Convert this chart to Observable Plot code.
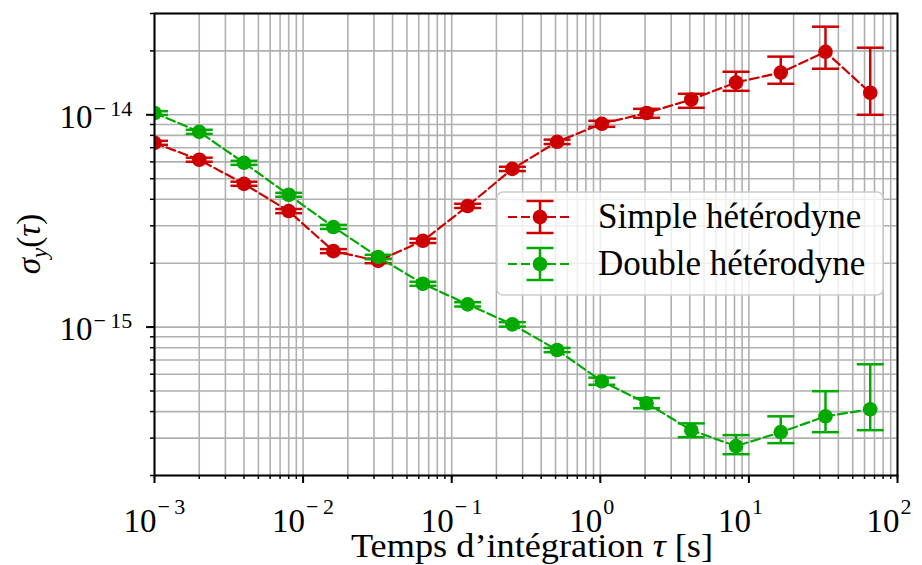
<!DOCTYPE html>
<html>
<head>
<meta charset="utf-8">
<script src="https://cdn.jsdelivr.net/npm/d3@7"></script>
<script src="https://cdn.jsdelivr.net/npm/@observablehq/plot@0.6"></script>
<style>
  html, body { margin: 0; padding: 0; background: white; }
  #chart svg { display: block; }
</style>
</head>
<body>
<div id="chart"></div>
<script>
// ---- data ----
const tau = [0.001, 0.002, 0.004, 0.008, 0.016, 0.032, 0.064, 0.128, 0.256, 0.512, 1.024, 2.048, 4.096, 8.192, 16.384, 32.768, 65.536];

const simpleVal = [7.38e-15, 6.14e-15, 4.73e-15, 3.52e-15, 2.28e-15, 2.05e-15, 2.55e-15, 3.72e-15, 5.56e-15, 7.46e-15, 9.07e-15, 1.02e-14, 1.18e-14, 1.42e-14, 1.58e-14, 1.98e-14, 1.27e-14];
const simpleLo  = [7.22e-15, 6.01e-15, 4.63e-15, 3.44e-15, 2.23e-15, 2.00e-15, 2.49e-15, 3.64e-15, 5.43e-15, 7.28e-15, 8.78e-15, 9.68e-15, 1.079e-14, 1.297e-14, 1.40e-14, 1.648e-14, 1.0e-14];
const simpleHi  = [7.54e-15, 6.28e-15, 4.84e-15, 3.60e-15, 2.33e-15, 2.10e-15, 2.61e-15, 3.81e-15, 5.69e-15, 7.64e-15, 9.37e-15, 1.067e-14, 1.256e-14, 1.595e-14, 1.879e-14, 2.60e-14, 2.07e-14];

const doubleVal = [1.02e-14, 8.31e-15, 5.94e-15, 4.20e-15, 2.96e-15, 2.14e-15, 1.60e-15, 1.28e-15, 1.03e-15, 7.80e-16, 5.56e-16, 4.38e-16, 3.27e-16, 2.75e-16, 3.20e-16, 3.80e-16, 4.10e-16];
const doubleLo  = [9.98e-15, 8.13e-15, 5.81e-15, 4.11e-15, 2.90e-15, 2.09e-15, 1.565e-15, 1.25e-15, 1.005e-15, 7.62e-16, 5.35e-16, 4.15e-16, 3.03e-16, 2.52e-16, 2.84e-16, 3.20e-16, 3.27e-16];
const doubleHi  = [1.04e-14, 8.50e-15, 6.07e-15, 4.29e-15, 3.03e-15, 2.19e-15, 1.635e-15, 1.31e-15, 1.055e-15, 7.98e-16, 5.78e-16, 4.63e-16, 3.52e-16, 3.10e-16, 3.80e-16, 4.99e-16, 6.68e-16];

const seriesNames  = ["Simple hétérodyne", "Double hétérodyne"];
const seriesColors = ["#cc0000", "#00aa00"];

const xMajor = [1e-3, 1e-2, 1e-1, 1, 10, 100];
const xExp   = ["−\u20093", "−\u20092", "−\u20091", "0", "1", "2"];
const yMajor = [1e-15, 1e-14];
const yExp   = ["−\u200915", "−\u200914"];

const xDomain = [1e-3, 1e2];
const yDomain = [2e-16, 3e-14];

// ---- build tables ----
const seriesData = [
  tau.map((t, i) => ({tau: t, v: simpleVal[i], lo: simpleLo[i], hi: simpleHi[i]})),
  tau.map((t, i) => ({tau: t, v: doubleVal[i], lo: doubleLo[i], hi: doubleHi[i]}))
];

const xAll = d3.scaleLog().domain(xDomain).ticks();
const yAll = d3.scaleLog().domain(yDomain).ticks();

const capSymbol = {
  draw(ctx) { ctx.moveTo(-13.5, 0); ctx.lineTo(13.5, 0); }
};

const gridStyle = {stroke: "#b0b0b0", strokeOpacity: 1, strokeWidth: 1.6};

const seriesMarks = [];
seriesData.forEach((rows, s) => {
  const c = seriesColors[s];
  seriesMarks.push(
    Plot.line(rows, {x: "tau", y: "v", stroke: c, strokeWidth: 2.2, strokeDasharray: "9,4", clip: true}),
    Plot.ruleX(rows, {x: "tau", y1: "lo", y2: "hi", stroke: c, strokeWidth: 2.5, clip: true}),
    Plot.dot(rows, {x: "tau", y: "lo", symbol: capSymbol, r: 5, stroke: c, fill: "none", strokeWidth: 2.5, clip: true}),
    Plot.dot(rows, {x: "tau", y: "hi", symbol: capSymbol, r: 5, stroke: c, fill: "none", strokeWidth: 2.5, clip: true}),
    Plot.dot(rows, {x: "tau", y: "v", r: 7.3, fill: c, stroke: null, clip: true})
  );
});

const chart = Plot.plot({
  width: 922,
  height: 565,
  marginLeft: 154,
  marginRight: 25,
  marginTop: 13,
  marginBottom: 90,
  style: {fontFamily: "'Liberation Serif', serif", background: "white", color: "black"},
  x: {type: "log", domain: xDomain},
  y: {type: "log", domain: yDomain},
  marks: [
    Plot.gridX(xAll, gridStyle),
    Plot.gridY(yAll, gridStyle),
    ...seriesMarks,
    Plot.frame({stroke: "black", strokeWidth: 2}),
    Plot.axisX({ticks: xAll, tickSize: 4, tickFormat: () => "", label: null, strokeWidth: 1.5}),
    Plot.axisX({ticks: xMajor, tickSize: 8, tickFormat: () => "", label: null, strokeWidth: 2}),
    Plot.axisY({ticks: yAll, tickSize: 4, tickFormat: () => "", label: null, strokeWidth: 1.5}),
    Plot.axisY({ticks: yMajor, tickSize: 8, tickFormat: () => "", label: null, strokeWidth: 2}),
    Plot.text(xMajor, {x: d => d, frameAnchor: "bottom", text: () => "10", textAnchor: "end", lineAnchor: "bottom", dx: 2, dy: 56, fontSize: 33, fill: "black"}),
    Plot.text(xMajor, {x: d => d, frameAnchor: "bottom", text: (d, i) => xExp[i], textAnchor: "start", lineAnchor: "bottom", dx: 3, dy: 38, fontSize: 22, fill: "black"}),
    Plot.text(yMajor, {y: d => d, frameAnchor: "left", text: () => "10", textAnchor: "end", lineAnchor: "bottom", dx: -62, dy: 13, fontSize: 33, fill: "black"}),
    Plot.text(yMajor, {y: d => d, frameAnchor: "left", text: (d, i) => yExp[i], textAnchor: "start", lineAnchor: "bottom", dx: -61, dy: 1, fontSize: 22, fill: "black"})
  ]
});

const svg = d3.select(chart);

// axis labels
const xl = svg.append("text")
  .attr("x", 532).attr("y", 557)
  .attr("text-anchor", "middle")
  .attr("textLength", 362).attr("lengthAdjust", "spacingAndGlyphs")
  .attr("font-size", 33).attr("fill", "black");
xl.append("tspan").text("Temps d’intégration ");
xl.append("tspan").attr("font-style", "italic").text("τ");
xl.append("tspan").text(" [s]");

const yl = svg.append("text")
  .attr("transform", "translate(40,244) rotate(-90)")
  .attr("text-anchor", "middle")
  .attr("font-size", 33).attr("fill", "black");
yl.append("tspan").attr("font-style", "italic").text("σ");
yl.append("tspan").attr("font-style", "italic").attr("font-size", 23).attr("dy", 7).text("y");
yl.append("tspan").attr("dy", -7).text("(");
yl.append("tspan").attr("font-style", "italic").text("τ");
yl.append("tspan").text(")");

// legend
const lg = svg.append("g").attr("text-anchor", "start");
lg.append("rect")
  .attr("x", 497).attr("y", 192).attr("width", 386).attr("height", 103)
  .attr("rx", 6).attr("fill", "white").attr("fill-opacity", 0.8)
  .attr("stroke", "#cccccc").attr("stroke-width", 1.5);
seriesNames.forEach((name, i) => {
  const cy = 217 + i * 47;
  const c = seriesColors[i];
  lg.append("line").attr("x1", 508).attr("x2", 572).attr("y1", cy).attr("y2", cy)
    .attr("stroke", c).attr("stroke-width", 2.2).attr("stroke-dasharray", "9,4");
  lg.append("line").attr("x1", 540).attr("x2", 540).attr("y1", cy - 16).attr("y2", cy + 16)
    .attr("stroke", c).attr("stroke-width", 2.5);
  [cy - 16, cy + 16].forEach(yy => lg.append("line")
    .attr("x1", 526.5).attr("x2", 553.5).attr("y1", yy).attr("y2", yy)
    .attr("stroke", c).attr("stroke-width", 2.5));
  lg.append("circle").attr("cx", 540).attr("cy", cy).attr("r", 7.3).attr("fill", c);
  lg.append("text").attr("x", 598).attr("y", cy + 11)
    .attr("text-anchor", "start")
    .attr("font-size", 35).attr("fill", "black").text(name);
});

document.getElementById("chart").appendChild(chart);
</script>
</body>
</html>
